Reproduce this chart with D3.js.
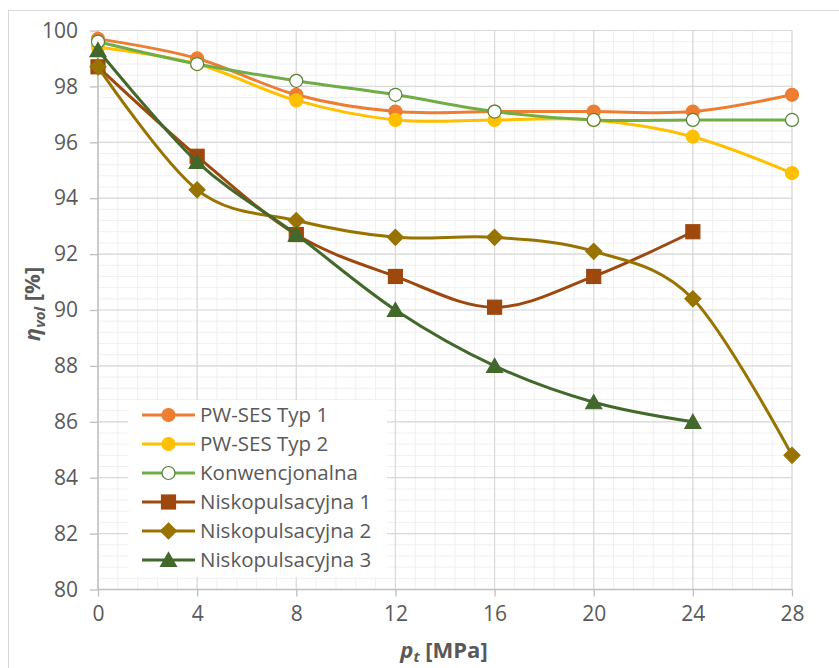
<!doctype html>
<html>
<head>
<meta charset="utf-8"/>
<title>Sprawność objętościowa</title>
<script src="https://d3js.org/d3.v7.min.js"></script>
<style>
  body { margin: 0; background: #fff; }
  text { font-family: "Open Sans", "Noto Sans", sans-serif; fill: #595959; }
</style>
</head>
<body>
<div id="chart"></div>
<script>
  // dane
  var cisnienie = [0, 4, 8, 12, 16, 20, 24, 28];
  var typ1   = [99.7, 99.0, 97.7, 97.1, 97.1, 97.1, 97.1, 97.7];
  var typ2   = [99.4, 98.8, 97.5, 96.8, 96.8, 96.8, 96.2, 94.9];
  var konw   = [99.6, 98.8, 98.2, 97.7, 97.1, 96.8, 96.8, 96.8];
  var nisko1 = [98.7, 95.5, 92.7, 91.2, 90.1, 91.2, 92.8];
  var nisko2 = [98.7, 94.3, 93.2, 92.6, 92.6, 92.1, 90.4, 84.8];
  var nisko3 = [99.3, 95.3, 92.7, 90.0, 88.0, 86.7, 86.0];
  var nazwy  = ["PW-SES Typ 1", "PW-SES Typ 2", "Konwencjonalna",
                "Niskopulsacyjna 1", "Niskopulsacyjna 2", "Niskopulsacyjna 3"];
  var xTicks = [0, 4, 8, 12, 16, 20, 24, 28];
  var yTicks = [80, 82, 84, 86, 88, 90, 92, 94, 96, 98, 100];

  var serie = [
    {nazwa: nazwy[0], dane: typ1,   kolor: "#ED7D31", ramka: "#ED7D31", wyp: "#ED7D31", znak: "kolo"},
    {nazwa: nazwy[1], dane: typ2,   kolor: "#FFC000", ramka: "#FFC000", wyp: "#FFC000", znak: "kolo"},
    {nazwa: nazwy[2], dane: konw,   kolor: "#70AD47", ramka: "#548235", wyp: "#FFFFFF", znak: "kolo"},
    {nazwa: nazwy[3], dane: nisko1, kolor: "#9E480E", ramka: "#9E480E", wyp: "#9E480E", znak: "kwadrat"},
    {nazwa: nazwy[4], dane: nisko2, kolor: "#997300", ramka: "#997300", wyp: "#997300", znak: "romb"},
    {nazwa: nazwy[5], dane: nisko3, kolor: "#43682B", ramka: "#43682B", wyp: "#43682B", znak: "trojkat"}
  ];

  var W = 839, H = 668;
  var svg = d3.select("#chart").append("svg")
      .attr("width", W).attr("height", H);

  // ramka obszaru wykresu
  svg.append("rect")
     .attr("x", 8.5).attr("y", 10.5)
     .attr("width", 900).attr("height", 700)
     .attr("fill", "#fff").attr("stroke", "#d9d9d9");

  var x = d3.scaleLinear().domain([0, 28]).range([98, 792]);
  var y = d3.scaleLinear().domain([80, 100]).range([589.5, 30.5]);

  // siatka pomocnicza
  var g = svg.append("g");
  var xMinor = d3.range(0, 28.01, 0.8);
  var yMinor = d3.range(80, 100.01, 0.4);
  g.selectAll(".mx").data(xMinor).enter().append("line")
    .attr("x1", d => x(d)).attr("x2", d => x(d))
    .attr("y1", y(80)).attr("y2", y(100))
    .attr("stroke", "#f0f0f0").attr("stroke-width", 1);
  g.selectAll(".my").data(yMinor).enter().append("line")
    .attr("x1", x(0)).attr("x2", x(28))
    .attr("y1", d => y(d)).attr("y2", d => y(d))
    .attr("stroke", "#f0f0f0").attr("stroke-width", 1);

  // siatka główna
  g.selectAll(".gx").data(xTicks).enter().append("line")
    .attr("x1", d => x(d)).attr("x2", d => x(d))
    .attr("y1", y(80)).attr("y2", y(100))
    .attr("stroke", "#d9d9d9").attr("stroke-width", 1.2);
  g.selectAll(".gy").data(yTicks).enter().append("line")
    .attr("x1", x(0)).attr("x2", x(28))
    .attr("y1", d => y(d)).attr("y2", d => y(d))
    .attr("stroke", "#d9d9d9").attr("stroke-width", 1.2);

  // osie
  var osX = d3.axisBottom(x).tickValues(xTicks).tickSize(7).tickPadding(10);
  var osY = d3.axisLeft(y).tickValues(yTicks).tickSize(8).tickPadding(12);
  var gx = svg.append("g").attr("transform", "translate(0," + y(80) + ")").call(osX);
  var gy = svg.append("g").attr("transform", "translate(" + x(0) + ",0)").call(osY);
  [gx, gy].forEach(function(a) {
    a.select(".domain").attr("stroke", "#bfbfbf").attr("stroke-width", 1.3);
    a.selectAll(".tick line").attr("stroke", "#bfbfbf").attr("stroke-width", 1.3);
    a.selectAll(".tick text").style("font-size", "21px").attr("fill", "#595959")
      .style("font-family", "'Open Sans', sans-serif");
  });
  gy.select(".domain").remove();
  gy.append("line").attr("x1", 0).attr("x2", 0).attr("y1", y(80)).attr("y2", y(100))
    .attr("stroke", "#bfbfbf").attr("stroke-width", 1.3);
  gx.select(".domain").remove();
  gx.append("line").attr("x1", x(0)).attr("x2", x(28)).attr("y1", 0).attr("y2", 0)
    .attr("stroke", "#bfbfbf").attr("stroke-width", 1.3);

  // tytuły osi
  var tx = svg.append("text").attr("x", 444).attr("y", 658)
    .attr("text-anchor", "middle").style("font-size", "22px").style("font-weight", "bold");
  tx.append("tspan").text("p").style("font-style", "italic");
  tx.append("tspan").text("t").attr("dy", 4).style("font-size", "15px").style("font-style", "italic");
  tx.append("tspan").text(" [MPa]").attr("dy", -4);

  var ty = svg.append("text")
    .attr("transform", "translate(40,304) rotate(-90)")
    .attr("text-anchor", "middle").style("font-size", "22px").style("font-weight", "bold");
  ty.append("tspan").text("η").style("font-style", "italic");
  ty.append("tspan").text("vol").attr("dy", 5).style("font-size", "15px").style("font-style", "italic");
  ty.append("tspan").text(" [%]").attr("dy", -5);

  // znaczniki
  function znacznik(sel, s) {
    if (s.znak === "kolo") {
      sel.append("circle").attr("r", 6.5);
    } else if (s.znak === "kwadrat") {
      sel.append("rect").attr("x", -7).attr("y", -7).attr("width", 14).attr("height", 14);
    } else if (s.znak === "romb") {
      sel.append("path").attr("d", "M0,-8L8,0L0,8L-8,0Z");
    } else {
      sel.append("path").attr("d", "M0,-7.5L8,6.5L-8,6.5Z");
    }
    sel.selectAll("*").attr("fill", s.wyp).attr("stroke", s.ramka).attr("stroke-width", 1.2);
  }

  var linia = d3.line()
    .x(d => x(d[0])).y(d => y(d[1]))
    .curve(d3.curveCardinal.tension(0));

  serie.forEach(function(s) {
    var pkt = s.dane.map((v, i) => [cisnienie[i], v]);
    var gs = svg.append("g");
    gs.append("path").datum(pkt).attr("d", linia)
      .attr("fill", "none").attr("stroke", s.kolor).attr("stroke-width", 3)
      .attr("stroke-linecap", "round");
    pkt.forEach(function(p) {
      var m = gs.append("g").attr("transform", "translate(" + x(p[0]) + "," + y(p[1]) + ")");
      znacznik(m, s);
    });
  });

  // legenda
  var leg = svg.append("g");
  leg.append("rect").attr("x", 128).attr("y", 400).attr("width", 259).attr("height", 177)
    .attr("fill", "#fff");
  serie.forEach(function(s, i) {
    var cy = 415 + i * 29;
    var r = leg.append("g");
    r.append("line").attr("x1", 142).attr("x2", 195).attr("y1", cy).attr("y2", cy)
      .attr("stroke", s.kolor).attr("stroke-width", 3);
    var m = r.append("g").attr("transform", "translate(168.5," + cy + ")");
    znacznik(m, s);
    r.append("text").attr("x", 200).attr("y", cy).attr("dy", "0.35em")
      .style("font-size", "20.5px").text(s.nazwa);
  });
</script>
</body>
</html>
